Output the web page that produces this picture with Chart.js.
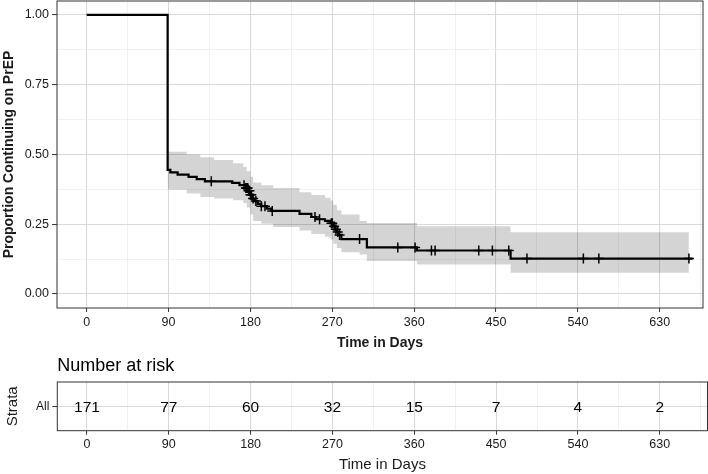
<!DOCTYPE html>
<html>
<head>
<meta charset="utf-8">
<script src="https://cdn.jsdelivr.net/npm/chart.js@4.4.1/dist/chart.umd.min.js"></script>
<style>
  body { margin: 0; background: #ffffff; }
  #wrap { position: relative; width: 708px; height: 474px; }
  #survChart { position: absolute; left: 0; top: 0; }
  #riskChart { position: absolute; left: 0; top: 356px; }
</style>
</head>
<body>
<div id="wrap">
  <canvas id="survChart" width="708" height="356"></canvas>
  <canvas id="riskChart" width="708" height="118"></canvas>
</div>
<script>
// Kaplan-Meier estimate (value after each step)
const kmTimes = [0, 89, 92, 100, 112, 121, 130, 160, 168, 175, 178, 180, 182, 184, 188, 192, 198, 203, 234, 247, 252, 262, 268, 271, 273, 275, 277, 280, 308, 363, 466, 666];
const kmSurv = [1.0, 0.445, 0.436, 0.428, 0.42, 0.412, 0.404, 0.398, 0.39, 0.38, 0.37, 0.356, 0.342, 0.333, 0.323, 0.315, 0.306, 0.298, 0.287, 0.276, 0.268, 0.262, 0.254, 0.243, 0.232, 0.222, 0.212, 0.197, 0.167, 0.156, 0.127, 0.127];

// confidence band
const ciTimes = [89, 110, 125, 140, 161, 172, 176, 180, 183, 192, 205, 234, 247, 262, 268, 271, 275, 280, 300, 308, 363, 466, 662];
const ciUpper = [0.51, 0.50, 0.49, 0.48, 0.469, 0.455, 0.44, 0.42, 0.40, 0.39, 0.38, 0.365, 0.355, 0.345, 0.335, 0.32, 0.30, 0.285, 0.262, 0.255, 0.243, 0.221, 0.221];
const ciLower = [0.374, 0.36, 0.348, 0.342, 0.336, 0.326, 0.31, 0.285, 0.262, 0.252, 0.24, 0.228, 0.215, 0.205, 0.195, 0.18, 0.165, 0.15, 0.142, 0.118, 0.106, 0.076, 0.076];

// censored observations
const censorTimes = [137, 173, 175, 176, 177, 178, 179, 180, 181, 183, 186, 192, 196, 204, 251, 256, 269, 270, 272, 274, 276, 278, 300, 342, 361, 379, 383, 431, 446, 464, 484, 546, 563, 662];

// number at risk table
const strata = ["All"];
const riskTimes = [0, 90, 180, 270, 360, 450, 540, 630];
const riskCounts = [171, 77, 60, 32, 15, 7, 4, 2];

// axis ticks
const xMajor = [0, 90, 180, 270, 360, 450, 540, 630];
const xMinor = [45, 135, 225, 315, 405, 495, 585, 675];
const yMajor = [0, 0.25, 0.5, 0.75, 1];
const yMinor = [0.125, 0.375, 0.625, 0.875];

Chart.defaults.font.family = '"Liberation Sans", Arial, Helvetica, sans-serif';
Chart.defaults.color = "#1a1a1a";

function near(list, v) {
    return list.some((m) => Math.abs(m - v) < 1e-6);
}

// survival value in effect at time t
function survAt(t) {
    let s = kmSurv[0];
    kmTimes.forEach((kt, i) => {
        if (kt <= t) s = kmSurv[i];
    });
    return s;
}

function gridOpts(major) {
    const isMajor = (c) => c.tick && near(major, c.tick.value);
    return {
        color: (c) => (isMajor(c) ? "#d9d9d9" : "#ebebeb"),
        lineWidth: (c) => (isMajor(c) ? 1.1 : 0.7),
        tickColor: (c) => (isMajor(c) ? "#333333" : "rgba(0,0,0,0)"),
        tickLength: 4,
        tickWidth: 1,
    };
}

function setTicks(values) {
    return (axis) => {
        axis.ticks = values.map((v) => ({ value: v }));
    };
}

// fixed axis size, no extra label padding around the panel
function fitAxis(size) {
    return (axis) => {
        if (axis.isHorizontal()) axis.height = size;
        else axis.width = size;
        axis.paddingTop = 0;
        axis.paddingBottom = 0;
        axis.paddingLeft = 0;
        axis.paddingRight = 0;
    };
}

const panelBorder = {
    id: "panelBorder",
    afterDraw(chart) {
        const { ctx, chartArea: a } = chart;
        ctx.save();
        ctx.strokeStyle = "#333333";
        ctx.lineWidth = 1;
        ctx.strokeRect(a.left, a.top, a.right - a.left, a.bottom - a.top);
        ctx.restore();
    },
};

var survCtx = document.getElementById("survChart").getContext("2d");

var survChart = new Chart(survCtx, {
    type: "line",
    data: {
        datasets: [
            {
                label: "upper",
                data: ciTimes.map((t, i) => ({ x: t, y: ciUpper[i] })),
                stepped: true,
                borderWidth: 0,
                borderColor: "rgba(0,0,0,0)",
                backgroundColor: "rgba(0,0,0,0.17)",
                pointRadius: 0,
                fill: "+1",
                order: 2,
            },
            {
                label: "lower",
                data: ciTimes.map((t, i) => ({ x: t, y: ciLower[i] })),
                stepped: true,
                borderWidth: 0,
                borderColor: "rgba(0,0,0,0)",
                pointRadius: 0,
                fill: false,
                order: 3,
            },
            {
                label: "All",
                data: kmTimes.map((t, i) => ({ x: t, y: kmSurv[i] })),
                stepped: true,
                borderColor: "#000000",
                borderWidth: 2.2,
                pointRadius: 0,
                fill: false,
                order: 1,
            },
            {
                label: "censor",
                data: censorTimes.map((t) => ({ x: t, y: survAt(t) })),
                showLine: false,
                pointStyle: "cross",
                pointRadius: 5,
                pointBorderWidth: 1.5,
                pointBorderColor: "#000000",
                order: 0,
            },
        ],
    },
    plugins: [panelBorder],
    options: {
        responsive: false,
        animation: false,
        layout: { autoPadding: false, padding: { left: 0, right: 5, top: 1, bottom: 0 } },
        plugins: {
            legend: { display: false },
            tooltip: { enabled: false },
        },
        scales: {
            x: {
                type: "linear",
                min: -32.6,
                max: 677.5,
                afterBuildTicks: setTicks(xMajor.concat(xMinor).sort((a, b) => a - b)),
                afterFit: fitAxis(48),
                border: { display: false },
                grid: gridOpts(xMajor),
                ticks: {
                    autoSkip: false,
                    maxRotation: 0,
                    padding: 3,
                    font: { size: 12.5 },
                    callback: (v) => (near(xMajor, v) ? String(v) : ""),
                },
                title: {
                    display: true,
                    text: "Time in Days",
                    font: { size: 14, weight: "bold" },
                    padding: { top: 0, bottom: 4 },
                },
            },
            y: {
                type: "linear",
                min: -0.05,
                max: 1.05,
                afterBuildTicks: setTicks(yMajor.concat(yMinor).sort((a, b) => a - b)),
                afterFit: fitAxis(57),
                border: { display: false },
                grid: Object.assign(gridOpts(yMajor), { tickLength: 5 }),
                ticks: {
                    autoSkip: false,
                    padding: 3,
                    font: { size: 12.5 },
                    callback: (v) => (near(yMajor, v) ? v.toFixed(2) : ""),
                },
                title: {
                    display: true,
                    text: "Proportion Continuing on PrEP",
                    font: { size: 14, weight: "bold" },
                    padding: { top: 1, bottom: 0 },
                },
            },
        },
    },
});

const riskLabels = {
    id: "riskLabels",
    afterDatasetsDraw(chart) {
        const { ctx, chartArea: a } = chart;
        const meta = chart.getDatasetMeta(0);
        ctx.save();
        ctx.fillStyle = "#000000";
        ctx.font = '15.5px "Liberation Sans", Arial, sans-serif';
        ctx.textAlign = "center";
        ctx.textBaseline = "middle";
        meta.data.forEach((pt, i) => {
            ctx.fillText(String(riskCounts[i]), pt.x, pt.y + 1);
        });
        ctx.font = '18px "Liberation Sans", Arial, sans-serif';
        ctx.textAlign = "left";
        ctx.textBaseline = "alphabetic";
        ctx.fillText("Number at risk", a.left, 15);
        ctx.restore();
    },
};

var riskCtx = document.getElementById("riskChart").getContext("2d");

var riskChart = new Chart(riskCtx, {
    type: "scatter",
    data: {
        datasets: [
            {
                label: strata[0],
                data: riskTimes.map((t) => ({ x: t, y: 1 })),
                pointRadius: 0,
            },
        ],
    },
    plugins: [riskLabels, panelBorder],
    options: {
        responsive: false,
        animation: false,
        layout: { autoPadding: false, padding: { left: 0, right: 0.5, top: 26, bottom: 0 } },
        plugins: {
            legend: { display: false },
            tooltip: { enabled: false },
        },
        scales: {
            x: {
                type: "linear",
                min: -32.6,
                max: 682.5,
                afterBuildTicks: setTicks(xMajor.concat(xMinor).sort((a, b) => a - b)),
                afterFit: fitAxis(43.3),
                border: { display: false },
                grid: gridOpts(xMajor),
                ticks: {
                    autoSkip: false,
                    maxRotation: 0,
                    padding: 2,
                    font: { size: 12.5 },
                    callback: (v) => (near(xMajor, v) ? String(v) : ""),
                },
                title: {
                    display: true,
                    text: "Time in Days",
                    font: { size: 15 },
                    padding: { top: 0, bottom: 0 },
                },
            },
            y: {
                type: "linear",
                min: 0,
                max: 2,
                afterBuildTicks: setTicks([1]),
                afterFit: fitAxis(57.3),
                border: { display: false },
                grid: Object.assign(gridOpts([1]), { tickLength: 5 }),
                ticks: {
                    padding: 3,
                    font: { size: 12 },
                    callback: () => strata[0],
                },
                title: {
                    display: true,
                    text: "Strata",
                    font: { size: 15 },
                    padding: { top: 4, bottom: 0 },
                },
            },
        },
    },
});
</script>
</body>
</html>
